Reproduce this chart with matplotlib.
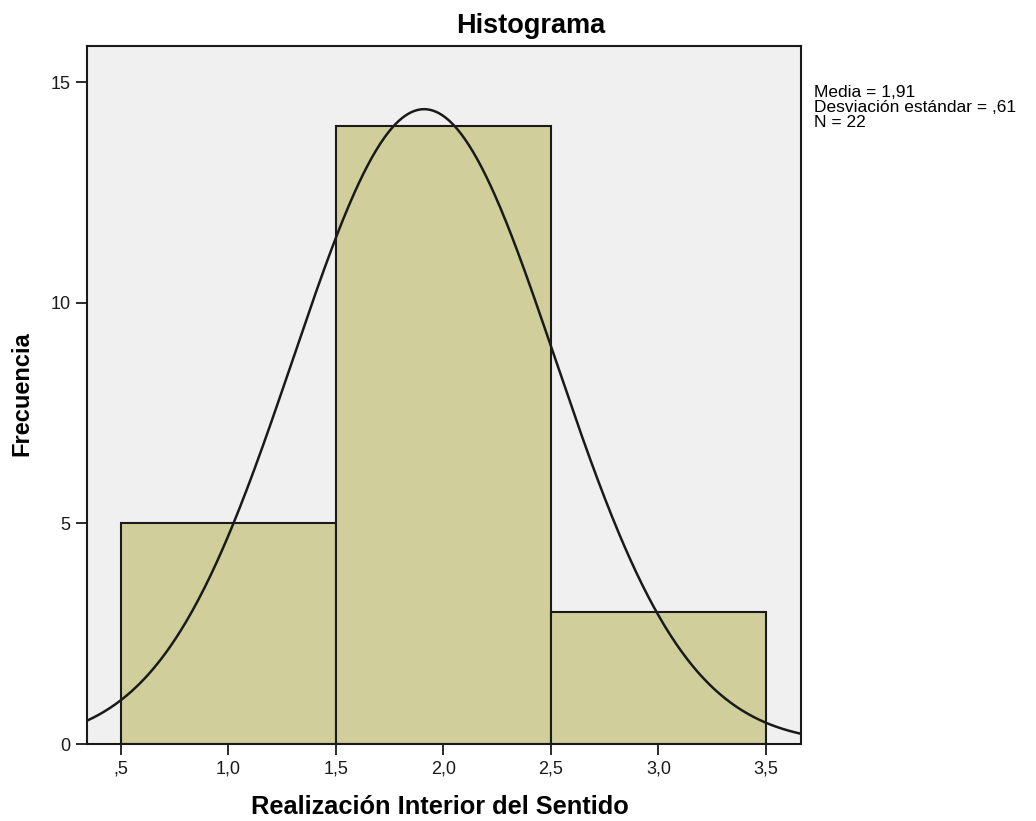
import numpy as np
import matplotlib
matplotlib.use("Agg")
import matplotlib.pyplot as plt

plt.rcParams['font.family'] = ['Liberation Sans', 'DejaVu Sans']

# Data
bin_left = [0.5, 1.5, 2.5]
bin_width = 1.0
frequencies = [5, 14, 3]
mean = 1.91
sd = 0.61
n = 22
xtick_vals = [0.5, 1.0, 1.5, 2.0, 2.5, 3.0, 3.5]
xtick_labels = [",5", "1,0", "1,5", "2,0", "2,5", "3,0", "3,5"]
ytick_vals = [0, 5, 10, 15]
stats_text = "Media = 1,91\nDesviación estándar = ,61\nN = 22"

fig = plt.figure(figsize=(10.36, 8.21), dpi=100)
ax = fig.add_axes([87/1036, 1-744/821, (801-87)/1036, (744-46)/821])
ax.set_facecolor('#F0F0F0')

ax.bar(bin_left, frequencies, width=bin_width, align='edge',
       color='#D0CF9C', edgecolor='#1a1a1a', linewidth=1.5, zorder=2)

xs = np.linspace(0.342, 3.663, 500)
ys = n * bin_width / (sd * np.sqrt(2 * np.pi)) * np.exp(-0.5 * ((xs - mean) / sd) ** 2)
ax.plot(xs, ys, color='#1a1a1a', linewidth=1.8, zorder=3)

ax.set_xlim(0.342, 3.663)
ax.set_ylim(0, 15.82)
ax.set_xticks(xtick_vals)
ax.set_xticklabels(xtick_labels)
ax.set_yticks(ytick_vals)
ax.tick_params(direction='out', length=8, width=1.3, labelsize=13, colors='#1a1a1a', pad=4)
for s in ax.spines.values():
    s.set_color('#1a1a1a')
    s.set_linewidth(1.5)

fig.text(440/1036, 1-807/821, "Realización Interior del Sentido", fontsize=18.3,
         fontweight='bold', ha='center', va='center')
fig.text(22/1036, 1-394/821, "Frecuencia", fontsize=17, fontweight='bold',
         ha='center', va='center', rotation=90)
fig.text(531/1036, 1-26/821, "Histograma", fontsize=19.5, fontweight='bold', ha='center', va='center')
fig.text(814/1036, 1-85/821, stats_text, fontsize=12.5, ha='left', va='top', linespacing=1.0)

fig.savefig("out.png", dpi=100)
